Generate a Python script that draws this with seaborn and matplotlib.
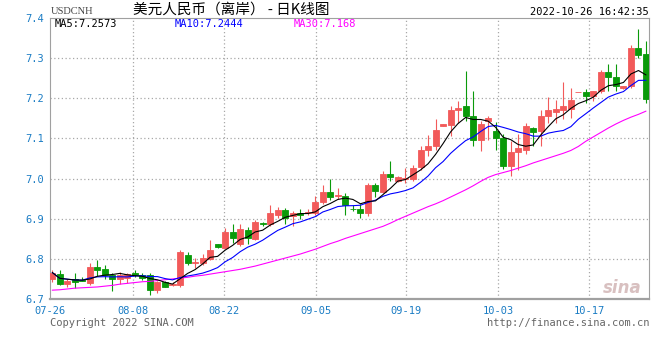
import numpy as np
import pandas as pd
import matplotlib
matplotlib.use('Agg')
import matplotlib.pyplot as plt
import seaborn as sns

# Candle data, 07-26 .. 10-26
opens = [6.750, 6.763, 6.737, 6.750, 6.748, 6.739, 6.780, 6.774, 6.759, 6.750,
         6.753, 6.764, 6.759, 6.759, 6.722, 6.742, 6.735, 6.734, 6.810, 6.789,
         6.789, 6.799, 6.836, 6.828, 6.868, 6.836, 6.871, 6.850, 6.889, 6.886,
         6.910, 6.921, 6.906, 6.915, 6.913, 6.913, 6.941, 6.967, 6.956, 6.956,
         6.925, 6.925, 6.915, 6.983, 6.967, 7.012, 6.993, 7.000, 7.000, 7.029,
         7.070, 7.080, 7.130, 7.134, 7.170, 7.180, 7.157, 7.095, 7.143, 7.118,
         7.101, 7.031, 7.066, 7.072, 7.126, 7.118, 7.155, 7.167, 7.172, 7.174,
         7.215, 7.216, 7.205, 7.219, 7.265, 7.253, 7.226, 7.230, 7.325, 7.311]
closes = [6.766, 6.737, 6.745, 6.742, 6.745, 6.780, 6.771, 6.759, 6.750, 6.759,
          6.762, 6.760, 6.752, 6.722, 6.743, 6.731, 6.738, 6.817, 6.789, 6.791,
          6.801, 6.821, 6.829, 6.866, 6.851, 6.875, 6.851, 6.892, 6.888, 6.915,
          6.921, 6.902, 6.915, 6.910, 6.917, 6.941, 6.967, 6.955, 6.960, 6.934,
          6.924, 6.913, 6.983, 6.968, 7.012, 7.003, 7.003, 7.002, 7.027, 7.072,
          7.080, 7.120, 7.137, 7.172, 7.177, 7.155, 7.095, 7.137, 7.151, 7.100,
          7.031, 7.066, 7.076, 7.130, 7.116, 7.155, 7.170, 7.174, 7.180, 7.195,
          7.216, 7.205, 7.219, 7.265, 7.252, 7.230, 7.231, 7.325, 7.308, 7.197]
highs = [6.772, 6.771, 6.751, 6.764, 6.754, 6.790, 6.797, 6.784, 6.766, 6.768,
         6.765, 6.771, 6.766, 6.766, 6.746, 6.746, 6.743, 6.821, 6.818, 6.803,
         6.813, 6.846, 6.838, 6.877, 6.886, 6.886, 6.879, 6.896, 6.893, 6.933,
         6.930, 6.927, 6.919, 6.924, 6.923, 6.956, 6.983, 6.999, 6.977, 6.963,
         6.934, 6.937, 6.988, 6.988, 7.020, 7.043, 7.006, 7.027, 7.035, 7.081,
         7.109, 7.149, 7.137, 7.180, 7.192, 7.269, 7.217, 7.143, 7.155, 7.140,
         7.112, 7.093, 7.112, 7.139, 7.128, 7.172, 7.203, 7.195, 7.240, 7.226,
         7.216, 7.223, 7.219, 7.271, 7.286, 7.286, 7.231, 7.333, 7.373, 7.342]
lows = [6.742, 6.735, 6.731, 6.728, 6.744, 6.736, 6.757, 6.749, 6.721, 6.738,
        6.741, 6.754, 6.748, 6.710, 6.715, 6.729, 6.732, 6.730, 6.784, 6.776,
        6.784, 6.796, 6.826, 6.825, 6.840, 6.832, 6.838, 6.846, 6.881, 6.881,
        6.902, 6.886, 6.881, 6.900, 6.910, 6.910, 6.937, 6.946, 6.948, 6.910,
        6.919, 6.902, 6.906, 6.954, 6.963, 6.993, 6.992, 6.988, 6.993, 7.021,
        7.055, 7.070, 7.130, 7.107, 7.139, 7.143, 7.082, 7.068, 7.097, 7.072,
        7.024, 7.006, 7.022, 7.062, 7.080, 7.082, 7.139, 7.139, 7.149, 7.151,
        7.215, 7.188, 7.192, 7.213, 7.217, 7.217, 7.223, 7.226, 7.300, 7.188]
# MA30 curve (history before 07-26 is not shown)
ma30 = [6.722, 6.723, 6.725, 6.727, 6.728, 6.729, 6.730, 6.732, 6.734, 6.737,
        6.739, 6.741, 6.743, 6.744, 6.746, 6.748, 6.750, 6.752, 6.754, 6.757,
        6.759, 6.762, 6.765, 6.768, 6.771, 6.774, 6.778, 6.782, 6.787, 6.792,
        6.797, 6.802, 6.807, 6.812, 6.818, 6.824, 6.831, 6.838, 6.844, 6.851,
        6.857, 6.863, 6.869, 6.875, 6.881, 6.889, 6.898, 6.906, 6.914, 6.922,
        6.930, 6.937, 6.945, 6.954, 6.963, 6.972, 6.982, 6.993, 7.003, 7.010,
        7.015, 7.020, 7.026, 7.032, 7.039, 7.045, 7.051, 7.057, 7.063, 7.070,
        7.080, 7.093, 7.104, 7.115, 7.126, 7.136, 7.145, 7.153, 7.160, 7.168]

tick_labels = ['07-26', '08-08', '08-22', '09-05', '09-19', '10-03', '10-17']
tick_pos = [-0.3, 10.8, 22.9, 35.1, 47.1, 59.35, 71.45]
y_ticks = [6.7, 6.8, 6.9, 7.0, 7.1, 7.2, 7.3, 7.4]

df = pd.DataFrame({'open': opens, 'close': closes, 'high': highs, 'low': lows, 'ma30': ma30})
df['idx'] = np.arange(len(df))
df['ma5'] = df['close'].rolling(5, min_periods=1).mean()
df['ma10'] = df['close'].rolling(10, min_periods=1).mean()

sns.set_theme(style='white')
plt.rcParams['font.family'] = ['DejaVu Sans Mono']

RED = '#f25a5a'
GREEN = '#0a9a0a'
BLUE_TXT = '#1a7cc4'

fig = plt.figure(figsize=(6.6, 3.6), dpi=100)
ax = fig.add_axes([50 / 660, 1 - 299 / 360, 599 / 660, 281 / 360])

up = df['close'] >= df['open']
colors = np.where(up, RED, GREEN)

# wicks then bodies
ax.vlines(df['idx'], df['low'], df['high'], colors=colors, linewidth=0.8, zorder=2)
body = (df['close'] - df['open']).abs()
ax.bar(df['idx'], body, bottom=df[['open', 'close']].min(axis=1), width=0.8,
       color=colors, edgecolor=colors, linewidth=0.6, zorder=3)

sns.lineplot(x=df['idx'], y=df['ma30'], color='#ff00ff', linewidth=0.8, ax=ax, zorder=4)
sns.lineplot(x=df['idx'], y=df['ma10'], color='#0000ff', linewidth=0.8, ax=ax, zorder=4)
sns.lineplot(x=df['idx'], y=df['ma5'], color='black', linewidth=0.8, ax=ax, zorder=5)

ax.set_xlim(-0.3, 79.4)
ax.set_ylim(6.7, 7.4)
ax.set_xlabel('')
ax.set_ylabel('')

# dotted grid
for y in y_ticks[1:-1]:
    ax.axhline(y, color='#a8a8a8', linestyle=(0, (1, 2)), linewidth=0.9, zorder=1)
for x in tick_pos[1:]:
    ax.axvline(x, color='#a8a8a8', linestyle=(0, (1, 2)), linewidth=0.9, zorder=1)

ax.set_xticks(tick_pos)
ax.set_xticklabels(tick_labels, color=BLUE_TXT, fontsize=7.5)
ax.set_yticks(y_ticks)
ax.set_yticklabels([f'{v:.1f}' for v in y_ticks], color=BLUE_TXT, fontsize=7.5)
ax.tick_params(axis='both', length=0, pad=4)
ax.tick_params(axis='x', pad=5)

for s in ['left', 'top', 'right']:
    ax.spines[s].set_color('#a0a0a0')
    ax.spines[s].set_linewidth(0.8)
ax.spines['bottom'].set_color('#a0a0a0')
ax.spines['bottom'].set_linewidth(1.6)


def ftext(x, y, s, **kw):
    fig.text(x / 660, 1 - y / 360, s, va='center', **kw)


ftext(51, 12, 'USDCNH', fontsize=7.5, color='#444444', family=['Liberation Serif'])
ftext(231, 10, '美元人民币（离岸） - 日K线图', fontsize=10.5, color='black', ha='center',
      family=['Noto Sans CJK SC', 'DejaVu Sans'])
ftext(649, 12, '2022-10-26 16:42:35', fontsize=7.5, color='black', ha='right')
ftext(55, 24, 'MA5:7.2573', fontsize=7.5, color='black')
ftext(175, 24, 'MA10:7.2444', fontsize=7.5, color='#0000ff')
ftext(294, 24, 'MA30:7.168', fontsize=7.5, color='#ff00ff')
ftext(50, 323, 'Copyright 2022 SINA.COM', fontsize=7.5, color='#666666')
ftext(649, 323, 'http://finance.sina.com.cn', fontsize=7.5, color='#666666', ha='right')
ftext(642, 288, 'sina', fontsize=12, color='#d8c0c0', ha='right', style='italic',
      fontweight='bold', family=['DejaVu Sans'])

fig.savefig('out.png', dpi=100)
